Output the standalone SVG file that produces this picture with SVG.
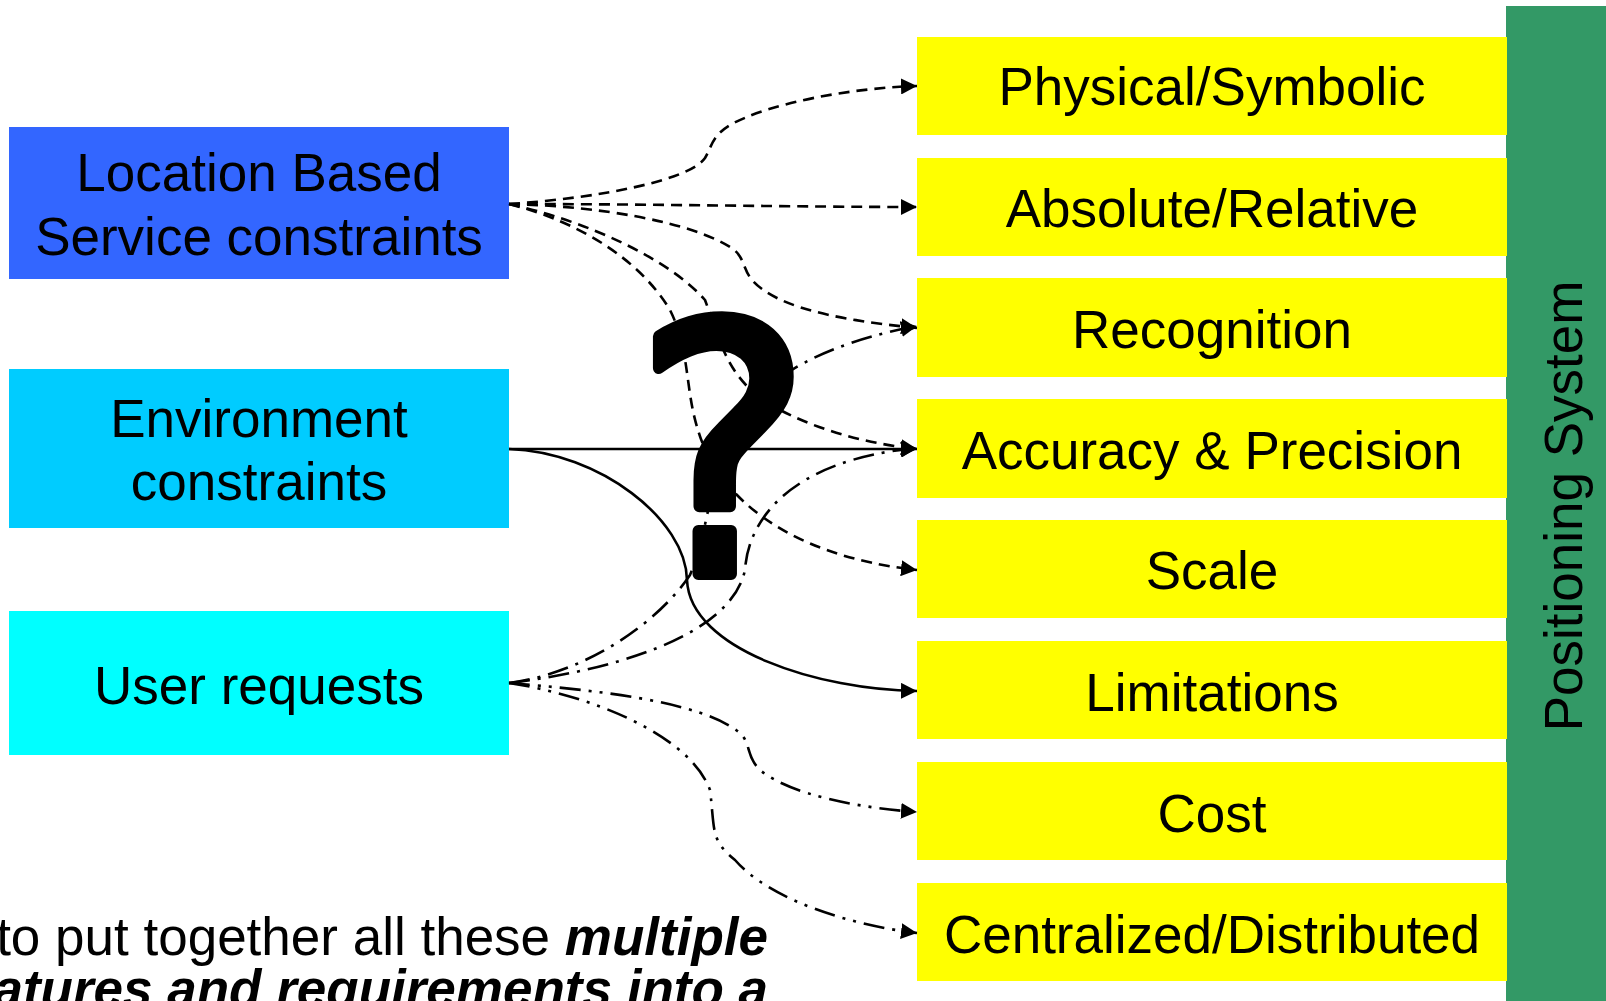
<svg xmlns="http://www.w3.org/2000/svg" width="1606" height="1001" viewBox="0 0 1606 1001">
<style>
text{font-family:"Liberation Sans",Arial,sans-serif;font-size:53px;fill:#000;text-anchor:middle}
.y{fill:#ff0}
.c{fill:none;stroke:#000;stroke-width:2.6}
.d{stroke-dasharray:11 7}
.dd{stroke-dasharray:21 8 3 8}
.ddd{stroke-dasharray:21 8 3 8 3 8}
</style>
<defs>
<marker id="a" markerUnits="userSpaceOnUse" markerWidth="16" markerHeight="16" refX="16" refY="8" orient="auto"><path d="M0 0L16 8L0 16Z" fill="#000"/></marker>
</defs>
<rect width="1606" height="1001" fill="#fff"/>
<g id="side"><rect x="1506" y="6" width="100" height="995" fill="#396"/><text transform="translate(1582 506) rotate(-90)">Positioning System</text></g>
<g id="n1"><rect class="y" x="917" y="37" width="590" height="98"/><text x="1212" y="105">Physical/Symbolic</text></g>
<g id="n2"><rect class="y" x="917" y="158" width="590" height="98"/><text x="1212" y="227">Absolute/Relative</text></g>
<g id="n3"><rect class="y" x="917" y="278" width="590" height="99"/><text x="1212" y="348">Recognition</text></g>
<g id="n4"><rect class="y" x="917" y="399" width="590" height="99"/><text x="1212" y="469">Accuracy &amp; Precision</text></g>
<g id="n5"><rect class="y" x="917" y="520" width="590" height="98"/><text x="1212" y="589">Scale</text></g>
<g id="n6"><rect class="y" x="917" y="641" width="590" height="98"/><text x="1212" y="711">Limitations</text></g>
<g id="n7"><rect class="y" x="917" y="762" width="590" height="98"/><text x="1212" y="832">Cost</text></g>
<g id="n8"><rect class="y" x="917" y="883" width="590" height="98"/><text x="1212" y="953">Centralized/Distributed</text></g>
<g id="lbs"><rect x="9" y="127" width="500" height="152" fill="#36f"/><text x="259" y="191">Location Based</text><text x="259" y="255">Service constraints</text></g>
<g id="env"><rect x="9" y="369" width="500" height="159" fill="#0cf"/><text x="259" y="437">Environment</text><text x="259" y="500">constraints</text></g>
<g id="user"><rect x="9" y="611" width="500" height="144" fill="#0ff"/><text x="259" y="704">User requests</text></g>
<g id="connectors">
<path class="c d" marker-end="url(#a)" d="M509 204C600 198 690 180 705 158C712 146 712 136 730 125C770 103 850 88 917 86"/>
<path class="c d" marker-end="url(#a)" d="M509 204C650 204 800 207 917 207"/>
<path class="c d" marker-end="url(#a)" d="M509 204C600 206 690 222 730 247C745 256 742 268 752 280C780 312 860 322 917 328"/>
<path class="c d" marker-end="url(#a)" d="M509 204C590 222 670 260 705 300C720 340 725 370 760 398C800 425 860 443 917 449"/>
<path class="c d" marker-end="url(#a)" d="M509 204C580 222 640 260 670 310C690 350 685 390 698 430C715 490 780 555 917 570"/>
<path class="c" marker-end="url(#a)" d="M509 449H917"/>
<path class="c" marker-end="url(#a)" d="M509 449C600 452 686 520 687 580C690 650 820 690 917 691"/>
<path class="c dd" marker-end="url(#a)" d="M509 683C590 672 660 620 690 575C705 540 710 490 725 440C745 400 790 350 917 326"/>
<path class="c dd" marker-end="url(#a)" d="M509 683C600 672 730 640 745 570C748 520 790 460 917 448"/>
<path class="c ddd" marker-end="url(#a)" d="M509 683C590 690 700 700 740 733C752 745 745 755 760 770C790 795 860 808 917 812"/>
<path class="c ddd" marker-end="url(#a)" d="M509 683C590 695 690 735 710 790C715 830 710 840 735 860C770 900 850 925 917 933"/>
</g>
<text id="q" transform="translate(723 574) scale(.96 1)" style="font-family:'DejaVu Sans',sans-serif;font-size:346px" stroke="#000" stroke-width="12" stroke-linejoin="round">?</text>
<g id="caption"><text x="768" y="955" style="text-anchor:end">to put together all these <tspan font-weight="700" font-style="italic">multiple</tspan></text><text x="768" y="1007" style="text-anchor:end;font-weight:700;font-style:italic">features and requirements into a</text></g>
</svg>
